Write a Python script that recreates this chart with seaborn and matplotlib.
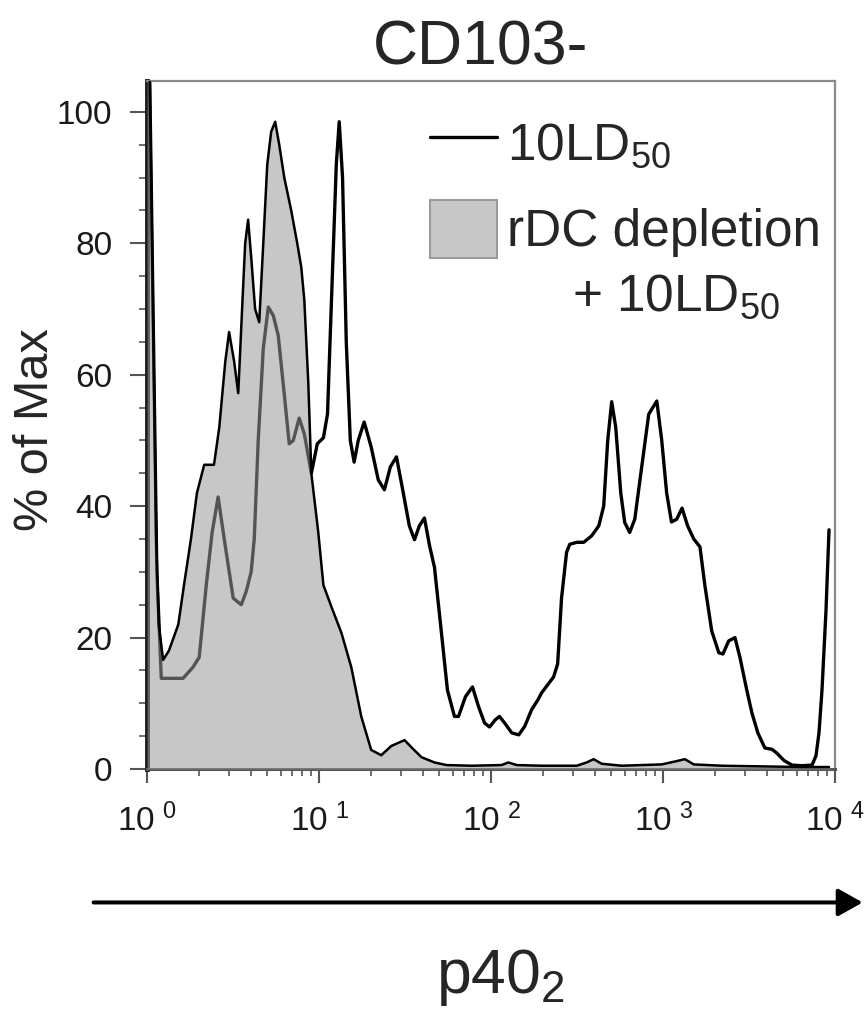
import numpy as np
import pandas as pd
import matplotlib
matplotlib.use("Agg")
import matplotlib.pyplot as plt
import seaborn as sns
from matplotlib.ticker import MultipleLocator, LogLocator, NullFormatter
from matplotlib.lines import Line2D
from matplotlib.patches import Patch

# 10LD50 histogram (open black line): p40 intensity vs % of max
ld50_x = [1.00, 1.03, 1.14, 1.21, 1.62, 1.85, 2.01, 2.21, 2.39, 2.59, 2.81, 3.17, 3.53, 3.77,
          4.03, 4.20, 4.43, 4.74, 5.07, 5.42, 5.79, 6.28, 6.71, 7.08, 7.67, 8.21, 9.02, 9.77,
          10.6, 11.2, 11.8, 12.6, 13.1, 13.7, 14.4, 15.2, 16.0, 16.9, 18.3, 20.1, 22.1, 24.0,
          26.0, 28.2, 30.9, 33.5, 35.9, 38.3, 41.0, 43.9, 46.9, 51.5, 55.8, 61.3, 64.7, 71.0,
          78.0, 84.6, 91.7, 98.0, 106, 112, 120, 132, 145, 157, 172, 187, 197, 216, 231, 244,
          257, 275, 287, 315, 346, 385, 423, 452, 477, 503, 531, 568, 599, 640, 685, 752, 826,
          920, 983, 1050, 1120, 1200, 1290, 1390, 1510, 1640, 1750, 1920, 2110, 2230, 2410,
          2620, 2800, 3070, 3290, 3560, 3910, 4300, 4600, 5050, 5620, 6430, 7350, 7750, 8070,
          8400, 8860, 9230]
ld50_y = [110, 110, 30, 13.8, 13.8, 15.5, 17, 28, 36, 41.4, 35, 26, 25, 27,
          30, 35, 50, 64, 70.3, 69, 66, 57, 49.5, 50, 53.4, 51, 45, 49.5,
          50.4, 54, 71, 92, 98.5, 90, 65, 50, 46.7, 50, 52.8, 49, 44, 42.5,
          46, 47.5, 42, 37, 34.9, 37, 38.2, 34, 30.7, 20.7, 12, 8, 8, 11,
          12.5, 9.5, 7, 6.4, 7.5, 8, 7, 5.5, 5.2, 6.5, 9, 10.5, 11.6, 13, 14, 16,
          26, 33, 34.2, 34.5, 34.5, 35.5, 37, 40, 50, 55.9, 52, 42, 37.5, 36, 38, 46, 54,
          56, 50, 42, 37.6, 38, 39.7, 37, 35, 33.8, 28, 21, 17.7, 17.5, 19.5,
          20, 17, 12, 8.5, 5.5, 3.2, 3, 2.4, 1.3, 0.6, 0.5, 0.6, 2, 5.5,
          12, 24, 36.4]

# rDC depletion + 10LD50 histogram (filled grey)
depl_x = [1.00, 1.03, 1.13, 1.17, 1.24, 1.34, 1.52, 1.64, 1.80, 1.95, 2.15, 2.45, 2.63, 2.85,
          3.00, 3.21, 3.39, 3.57, 3.72, 3.87, 4.03, 4.25, 4.49, 4.74, 5.00, 5.27, 5.56, 5.87,
          6.28, 6.89, 7.47, 7.88, 8.21, 8.66, 9.02, 9.90, 10.6, 11.8, 13.5, 15.4, 17.6, 20.1,
          23.0, 26.3, 31.4, 35.4, 39.4, 46.9, 55.1, 77.0, 115, 126, 141, 197, 315, 360, 395,
          440, 575, 983, 1200, 1340, 1510, 2200, 3760, 6430, 9230]
depl_y = [110, 110, 35, 22, 16.6, 18, 22, 28, 35, 42, 46.3, 46.3, 52, 62,
          66.5, 62, 57.2, 70, 80, 83.6, 78, 70, 68, 80, 92, 97, 98.5, 95,
          90, 85, 80, 76.4, 71.4, 58.8, 45, 36, 28, 24.7, 20.7, 15.5, 8, 2.9,
          2.1, 3.5, 4.4, 3, 1.8, 1.0, 0.6, 0.5, 0.6, 1.0, 0.6, 0.5, 0.5, 1.0, 1.5,
          0.8, 0.5, 0.7, 1.2, 1.5, 0.7, 0.5, 0.4, 0.3, 0.3]

x_ticks = [1, 10, 100, 1000, 10000]
x_ticklabels = [r"$10^{\ 0}$", r"$10^{\ 1}$", r"$10^{\ 2}$", r"$10^{\ 3}$", r"$10^{\ 4}$"]
y_ticks = [0, 20, 40, 60, 80, 100]

sns.set_style("ticks")
plt.rcParams["font.family"] = ["Liberation Sans", "DejaVu Sans"]
plt.rcParams["mathtext.default"] = "regular"

ld50 = pd.DataFrame({"p40": ld50_x, "pct": ld50_y})
depl = pd.DataFrame({"p40": depl_x, "pct": depl_y})

fig = plt.figure(figsize=(8.67, 10.14), dpi=100)
ax = fig.add_axes([0.1696, 0.2416, 0.7935, 0.6785])
ax.set_xscale("log")

# open line below, translucent fill on top (so the line shows grey inside it)
sns.lineplot(data=ld50, x="p40", y="pct", ax=ax, color="black", lw=2.4,
             estimator=None, sort=False, zorder=2, solid_joinstyle="round")
ax.fill_between(depl["p40"], depl["pct"], 0, color="#9a9a9a", alpha=0.55, lw=0, zorder=3)
sns.lineplot(data=depl, x="p40", y="pct", ax=ax, color="black", lw=1.8,
             estimator=None, sort=False, zorder=4, solid_joinstyle="round")

ax.set_xlim(1, 1e4)
ax.set_ylim(0, 104.7)
ax.set_xlabel("")
ax.set_ylabel("")

ax.set_xticks(x_ticks)
ax.set_xticklabels(x_ticklabels)
ax.xaxis.set_minor_locator(LogLocator(base=10, subs=np.arange(2, 10), numticks=20))
ax.xaxis.set_minor_formatter(NullFormatter())
ax.set_yticks(y_ticks)
ax.yaxis.set_minor_locator(MultipleLocator(5))

ax.tick_params(which="both", direction="out", color="#555555", labelsize=24, labelcolor="#1a1a1a")
ax.tick_params(axis="x", which="major", length=10, width=1.5, pad=15)
ax.tick_params(axis="x", which="minor", length=5, width=1.2)
ax.tick_params(axis="y", which="major", length=12, width=1.5, pad=13)
ax.tick_params(axis="y", which="minor", length=6, width=1.2)

for side in ["top", "right"]:
    ax.spines[side].set_color("#8a8a8a")
    ax.spines[side].set_linewidth(1.6)
ax.spines["bottom"].set_color("#555555")
ax.spines["bottom"].set_linewidth(2.2)
ax.spines["left"].set_color("#1a1a1a")
ax.spines["left"].set_linewidth(3.5)

handles = [Line2D([], [], color="black", lw=2.4),
           Patch(facecolor="#c8c8c8", edgecolor="#9a9a9a", lw=1.5)]
ax.legend(handles, [r"10LD$_{50}$", "rDC depletion"], loc="upper left",
          bbox_to_anchor=(0.411, 0.952), frameon=False, fontsize=37,
          handlelength=1.3, handleheight=1.35, handletextpad=0.21,
          labelspacing=0.55, borderpad=0, borderaxespad=0)
ax.text(0.618, 0.667, r"+ 10LD$_{50}$", transform=ax.transAxes, fontsize=37, va="baseline")

fig.text(0.554, 0.936, "CD103-", ha="center", va="baseline", fontsize=45)
fig.text(0.041, 0.576, "% of Max", rotation=90, ha="center", va="center", fontsize=35)
fig.text(0.577, 0.0207, r"p40$_2$", ha="center", va="baseline", fontsize=45)

ax.annotate("", xy=(0.995, 0.110), xytext=(0.108, 0.110),
            xycoords="figure fraction", textcoords="figure fraction",
            arrowprops=dict(arrowstyle="-|>,head_length=0.5,head_width=0.28",
                            lw=2.9, color="black", shrinkA=0, shrinkB=0,
                            mutation_scale=30),
            annotation_clip=False)

fig.savefig("out.png", dpi=100)
